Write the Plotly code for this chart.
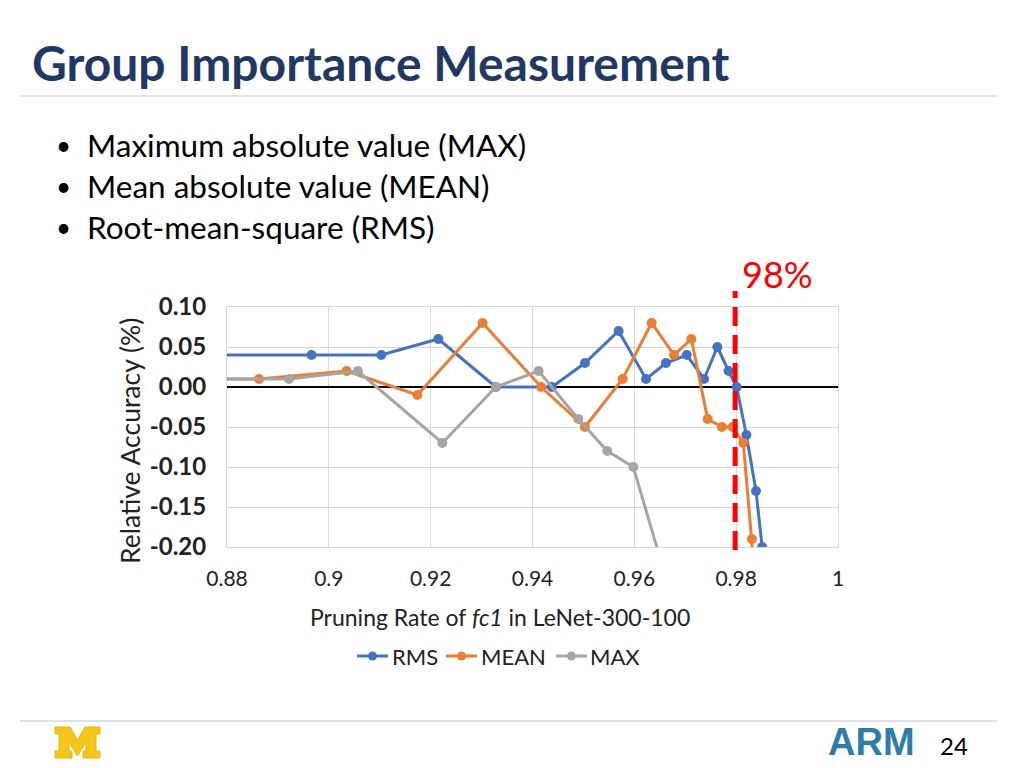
import plotly.graph_objects as go

# ---- data ----
rms_x = [0.870, 0.8966, 0.9103, 0.9215, 0.9328, 0.9438, 0.9503, 0.9569, 0.9623, 0.9662,
         0.9703, 0.9737, 0.9763, 0.9785, 0.9801, 0.9820, 0.9839, 0.9851]
rms_y = [0.04, 0.04, 0.04, 0.06, 0.00, 0.00, 0.03, 0.07, 0.01, 0.03,
         0.04, 0.01, 0.05, 0.02, 0.00, -0.06, -0.13, -0.20]

mean_x = [0.870, 0.8863, 0.9035, 0.9174, 0.9302, 0.9417, 0.9503, 0.9577, 0.9634, 0.9678,
          0.9712, 0.9744, 0.9772, 0.9793, 0.9814, 0.9831, 0.9845]
mean_y = [0.01, 0.01, 0.02, -0.01, 0.08, 0.00, -0.05, 0.01, 0.08, 0.04,
          0.06, -0.04, -0.05, -0.05, -0.07, -0.19, -0.30]

max_x = [0.870, 0.8922, 0.9057, 0.9223, 0.9328, 0.9412, 0.9490, 0.9547, 0.9598, 0.9667]
max_y = [0.01, 0.01, 0.02, -0.07, 0.00, 0.02, -0.04, -0.08, -0.10, -0.25]

x_ticks = [0.88, 0.90, 0.92, 0.94, 0.96, 0.98, 1.00]
x_tick_text = ["0.88", "0.9", "0.92", "0.94", "0.96", "0.98", "1"]
y_ticks = [0.10, 0.05, 0.00, -0.05, -0.10, -0.15, -0.20]
y_tick_text = ["0.10", "0.05", "0.00", "-0.05", "-0.10", "-0.15", "-0.20"]
threshold = 0.98

series_names = ["RMS", "MEAN", "MAX"]
series_colors = ["#4472C4", "#ED7D31", "#A5A5A5"]
bullets = ["Maximum absolute value (MAX)", "Mean absolute value (MEAN)", "Root-mean-square (RMS)"]

# the page body has an 8px margin, so the figure is 1016x760 and screen
# pixel positions are converted with that offset
OFF = 8
W, H = 1024 - OFF, 768 - OFF
FONT = "Lato, Open Sans, sans-serif"


def px(x):
    return (x - OFF) / W


def py(y):
    return 1 - (y - OFF) / H


fig = go.Figure()
for name, xs, ys, col in zip(series_names, [rms_x, mean_x, max_x], [rms_y, mean_y, max_y], series_colors):
    fig.add_trace(go.Scatter(x=xs, y=ys, name=name, mode="lines+markers",
                             line=dict(color=col, width=3),
                             marker=dict(color=col, size=10),
                             cliponaxis=True, showlegend=False))

fig.update_layout(
    width=W, height=H,
    margin=dict(l=0, r=0, t=0, b=0, autoexpand=False),
    paper_bgcolor="white", plot_bgcolor="white",
    font=dict(family=FONT, color="#000000"),
    xaxis=dict(domain=[px(227), px(838)], range=[0.88, 1.0], automargin=False,
               tickvals=x_ticks, ticktext=x_tick_text,
               tickfont=dict(size=21, color="#222"),
               showgrid=True, gridcolor="#D9D9D9", gridwidth=1,
               zeroline=False, showline=True, linecolor="#D9D9D9", mirror=True,
               ticks="outside", ticklen=13, tickcolor="rgba(0,0,0,0)", anchor="y"),
    yaxis=dict(domain=[py(547), py(307)], range=[-0.2, 0.1], automargin=False,
               tickvals=y_ticks, ticktext=["<b>%s</b>" % t for t in y_tick_text],
               tickfont=dict(size=24, color="#222"),
               showgrid=True, gridcolor="#D9D9D9", gridwidth=1,
               zeroline=True, zerolinecolor="#000000", zerolinewidth=2,
               showline=True, linecolor="#D9D9D9", mirror=True,
               ticks="outside", ticklen=15, tickcolor="rgba(0,0,0,0)"),
    showlegend=False,
)

shapes = []
# title underline and footer line
shapes.append(dict(type="line", xref="paper", yref="paper", x0=px(20), x1=px(997),
                   y0=py(96), y1=py(96), line=dict(color="#E3E5E8", width=2)))
shapes.append(dict(type="line", xref="paper", yref="paper", x0=px(20), x1=px(997),
                   y0=py(721), y1=py(721), line=dict(color="#DDE1EC", width=2)))
# red dashed threshold line
shapes.append(dict(type="line", xref="x", yref="paper", x0=threshold - 0.0002, x1=threshold - 0.0002,
                   y0=py(550), y1=py(291), line=dict(color="#FF0000", width=5, dash="19px,9px")))

# manual legend
leg_y = 656
leg_items = [(357, 390), (446, 479), (556, 588)]
ann = []
for (lx, tx), name, col in zip(leg_items, series_names, series_colors):
    shapes.append(dict(type="line", xref="paper", yref="paper", x0=px(lx), x1=px(lx + 31),
                       y0=py(leg_y), y1=py(leg_y), line=dict(color=col, width=3)))
    shapes.append(dict(type="circle", xref="paper", yref="paper",
                       x0=px(lx + 15.5 - 4.5), x1=px(lx + 15.5 + 4.5),
                       y0=py(leg_y + 4.5), y1=py(leg_y - 4.5),
                       fillcolor=col, line=dict(color=col, width=0)))
    ann.append(dict(text=name, x=px(tx), y=py(leg_y), xref="paper", yref="paper",
                    xanchor="left", yanchor="middle", showarrow=False,
                    font=dict(size=22, color="#222")))

# Block M logo
m_pts = [(0, 0), (15, 0), (22.5, 13), (30, 0), (45, 0), (45, 7), (41, 7), (41, 24), (45, 24),
         (45, 31), (28, 31), (28, 24), (31, 24), (31, 15), (22.5, 29), (14, 15), (14, 24),
         (17, 24), (17, 31), (0, 31), (0, 24), (4, 24), (4, 7), (0, 7)]
path = "M " + " L ".join("%.5f,%.5f" % (px(55 + x), py(727 + y)) for x, y in m_pts) + " Z"
shapes.append(dict(type="path", xref="paper", yref="paper", path=path,
                   fillcolor="#F5C518", line=dict(color="#E8B80E", width=1)))
fig.update_layout(shapes=shapes)

ann.append(dict(text="<b>Group Importance Measurement</b>", x=px(30), y=py(62), xref="paper", yref="paper",
                xanchor="left", yanchor="middle", showarrow=False,
                font=dict(size=48, color="#1F3864", family=FONT)))
for i, b in enumerate(bullets):
    yy = 145 + 41 * i
    ann.append(dict(text="•", x=px(63), y=py(yy), xref="paper", yref="paper",
                    xanchor="center", yanchor="middle", showarrow=False,
                    font=dict(size=26, color="#000")))
    ann.append(dict(text=b, x=px(85), y=py(yy), xref="paper", yref="paper",
                    xanchor="left", yanchor="middle", showarrow=False,
                    font=dict(size=31.5, color="#000")))
ann.append(dict(text="Relative Accuracy (%)", x=px(130), y=py(441), xref="paper", yref="paper",
                xanchor="center", yanchor="middle", showarrow=False, textangle=-90,
                font=dict(size=26.5, color="#222")))
ann.append(dict(text="Pruning Rate of <i>fc1</i> in LeNet-300-100", x=px(500), y=py(617),
                xref="paper", yref="paper", xanchor="center", yanchor="middle", showarrow=False,
                font=dict(size=23, color="#222")))
ann.append(dict(text="98%", x=px(777), y=py(274), xref="paper", yref="paper",
                xanchor="center", yanchor="middle", showarrow=False,
                font=dict(size=36, color="#FF0000")))
ann.append(dict(text="<b>ARM</b>", x=px(871), y=py(742), xref="paper", yref="paper",
                xanchor="center", yanchor="middle", showarrow=False,
                font=dict(size=38, color="#2D7CA9", family="Liberation Sans, Arial, sans-serif")))
ann.append(dict(text="24", x=px(954), y=py(745), xref="paper", yref="paper",
                xanchor="center", yanchor="middle", showarrow=False,
                font=dict(size=24, color="#000")))
fig.update_layout(annotations=ann)

fig.write_html("out.html")
